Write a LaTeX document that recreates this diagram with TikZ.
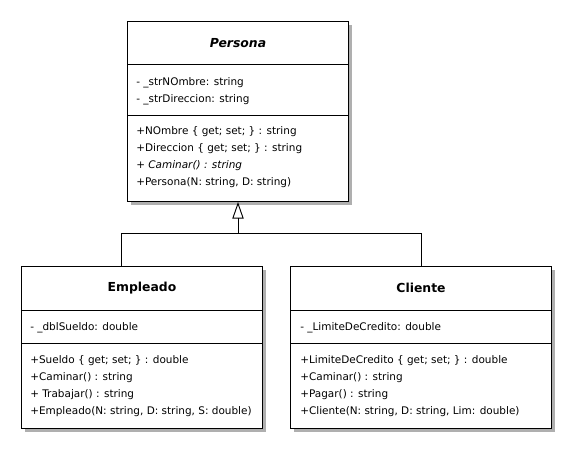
\documentclass[tikz,border=0pt]{standalone}
\usepackage{fontspec}
\setmainfont{DejaVu Sans}
\usetikzlibrary{arrows.meta,shadows}

\providecommand{\px}{0.75pt}
\providecommand{\membersize}{\fontsize{7.85pt}{9pt}\selectfont}
\providecommand{\titlesize}{\fontsize{9.3pt}{11pt}\selectfont}

\tikzset{
    classbox/.style={draw,line width=0.75pt,fill=white,anchor=north west,inner sep=0,
        drop shadow={shadow xshift=2.6pt,shadow yshift=-2.6pt,fill=black!35,opacity=0.9}},
    member/.style={anchor=base west,inner sep=0,font=\membersize},
    classname/.style={inner sep=0,font=\titlesize\bfseries},
    link/.style={line width=0.7pt},
    inherits/.style={link,-{Triangle[open,width=8.5pt,length=12.5pt]}},
}

\begin{document}
\begin{tikzpicture}[x=0.75pt,y=-0.75pt]
    \useasboundingbox (0,0) rectangle (576,452);
    \pgfmathsetmacro{\pleft}{136}
    \pgfmathsetmacro{\eleft}{30}
    \pgfmathsetmacro{\cleft}{300}

    % Persona
    \node[classbox,minimum width=221*\px,minimum height=180*\px] (persona) at (127,21) {};
    \draw (persona.west |- 0,64) -- (persona.east |- 0,64);
    \draw (persona.west |- 0,115) -- (persona.east |- 0,115);
    \node[classname] (persona-name) at (persona.north |- 0,43) {\itshape Persona};
    \node[member] (persona-a1) at (\pleft,86) {- \_strNOmbre: string};
    \node[member] (persona-a2) at (\pleft,103) {- \_strDireccion: string};
    \node[member] (persona-m1) at (\pleft,135) {+NOmbre \{ get; set; \} : string};
    \node[member] (persona-m2) at (\pleft,152) {+Direccion \{ get; set; \} : string};
    \node[member] (persona-m3) at (\pleft,169) {\itshape + Caminar() : string};
    \node[member] (persona-m4) at (\pleft,186) {+Persona(N: string, D: string)};

    % Empleado
    \node[classbox,minimum width=241*\px,minimum height=162*\px] (empleado) at (21,266) {};
    \draw (empleado.west |- 0,310) -- (empleado.east |- 0,310);
    \draw (empleado.west |- 0,343) -- (empleado.east |- 0,343);
    \node[classname] (empleado-name) at (empleado.north |- 0,288) {Empleado};
    \node[member] (empleado-a1) at (\eleft,331) {- \_dblSueldo: double};
    \node[member] (empleado-m1) at (\eleft,364) {+Sueldo \{ get; set; \} : double};
    \node[member] (empleado-m2) at (\eleft,381) {+Caminar() : string};
    \node[member] (empleado-m3) at (\eleft,398) {+ Trabajar() : string};
    \node[member] (empleado-m4) at (\eleft,415) {+Empleado(N: string, D: string, S: double)};

    % Cliente
    \node[classbox,minimum width=261*\px,minimum height=162*\px] (cliente) at (290,266) {};
    \draw (cliente.west |- 0,310) -- (cliente.east |- 0,310);
    \draw (cliente.west |- 0,343) -- (cliente.east |- 0,343);
    \node[classname] (cliente-name) at (cliente.north |- 0,288) {Cliente};
    \node[member] (cliente-a1) at (\cleft,331) {- \_LimiteDeCredito: double};
    \node[member] (cliente-m1) at (\cleft,364) {+LimiteDeCredito \{ get; set; \} : double};
    \node[member] (cliente-m2) at (\cleft,381) {+Caminar() : string};
    \node[member] (cliente-m3) at (\cleft,398) {+Pagar() : string};
    \node[member] (cliente-m4) at (\cleft,415) {+Cliente(N: string, D: string, Lim: double)};

    % herencia
    \coordinate (fork) at (persona.south |- 0,233);
    \draw[link] ([xshift=100*\px]empleado.north west) |- (cliente.north |- fork) -- (cliente.north);
    \draw[inherits] (fork) -- (persona.south);
\end{tikzpicture}
\end{document}
